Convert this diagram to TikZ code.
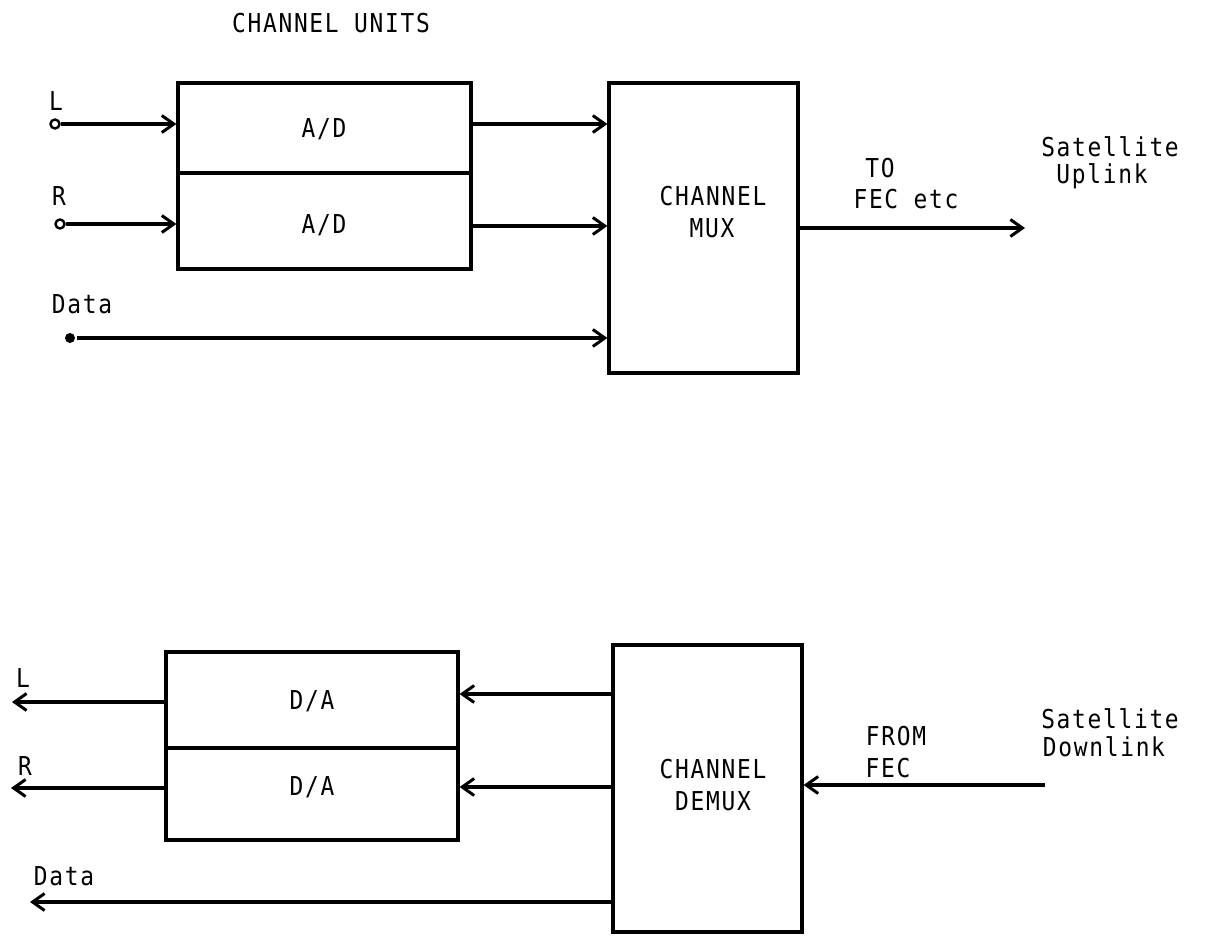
\documentclass[tikz,border=0pt]{standalone}
\usepackage{fontspec}
\setmainfont{DejaVu Sans Mono}[FakeStretch=0.88,LetterSpace=6.5]
\usetikzlibrary{arrows.meta}
\begin{document}
\begin{tikzpicture}[x=1pt,y=-1pt,
  line width=3.2pt,
  txt/.style={font=\fontsize{26}{30}\selectfont, inner sep=0pt, anchor=base},
  blk/.style={draw, rectangle, inner sep=0pt, line width=3.2pt},
  arr/.style={-{Straight Barb[length=12pt,width=17pt,line width=3pt]}},
  opendot/.style={circle, draw, fill=white, line width=2.4pt, minimum size=9pt, inner sep=0pt},
  fulldot/.style={circle, fill=black, minimum size=10pt, inner sep=0pt}]
\useasboundingbox (0,0) rectangle (1205,935);
% ---------- top (uplink) ----------
\node[txt] (title) at (331,32) {CHANNEL UNITS};
\node[blk, minimum width=293pt, minimum height=90pt] (AD1) at (324.5,128) {};
\node[blk, minimum width=293pt, minimum height=96pt] (AD2) at (324.5,221) {};
\node[txt] (AD1t) at (324,137) {A/D};
\node[txt] (AD2t) at (324,233) {A/D};
\node[blk, minimum width=189pt, minimum height=290pt] (MUX) at (703.5,228) {};
\node[txt] (MUXa) at (713,205) {CHANNEL};
\node[txt] (MUXb) at (712,237) {MUX};
\node[opendot] (Lin) at (55,124) {};
\node[opendot] (Rin) at (60,224) {};
\node[fulldot] (Din) at (70,338) {};
\node[txt] (Llab) at (56,110) {L};
\node[txt] (Rlab) at (59,205) {R};
\node[txt] (Dlab) at (82,313) {Data};
\draw[arr] (Lin) -- (Lin -| AD1.west);
\draw[arr] (Rin) -- (Rin -| AD2.west);
\draw[arr] (Din) -- (Din -| MUX.west);
\coordinate (o1) at (471,124);
\coordinate (o2) at (471,226);
\draw[arr] (o1) -- (o1 -| MUX.west);
\draw[arr] (o2) -- (o2 -| MUX.west);
\coordinate (up) at (1025,228);
\draw[arr] (MUX.east |- up) -- (up);
\node[txt] (to) at (880,177) {TO};
\node[txt] (fec) at (906,208) {FEC etc};
\node[txt] (sat1) at (1110,156) {Satellite};
\node[txt] (sat2) at (1102,183) {Uplink};
% ---------- bottom (downlink) ----------
\node[blk, minimum width=292pt, minimum height=96pt] (DA1) at (312,700) {};
\node[blk, minimum width=292pt, minimum height=92pt] (DA2) at (312,794) {};
\node[txt] (DA1t) at (312,709) {D/A};
\node[txt] (DA2t) at (312,795) {D/A};
\node[blk, minimum width=189pt, minimum height=287pt] (DEMUX) at (707.5,788.5) {};
\node[txt] (DMa) at (713,778) {CHANNEL};
\node[txt] (DMb) at (713,810) {DEMUX};
\coordinate (Lout) at (12,702);
\coordinate (Rout) at (11,788);
\coordinate (Dout) at (30,902);
\draw[arr] (Lout -| DA1.west) -- (Lout);
\draw[arr] (Rout -| DA2.west) -- (Rout);
\draw[arr] (Dout -| DEMUX.west) -- (Dout);
\coordinate (i1) at (613,694);
\coordinate (i2) at (613,787);
\draw[arr] (i1) -- (i1 -| DA1.east);
\draw[arr] (i2) -- (i2 -| DA2.east);
\coordinate (dn) at (1045,785);
\draw[arr] (dn) -- (dn -| DEMUX.east);
\node[txt] (Llab2) at (23,687) {L};
\node[txt] (Rlab2) at (25,775) {R};
\node[txt] (Dlab2) at (64,885) {Data};
\node[txt] (from) at (896,745) {FROM};
\node[txt] (fec2) at (888,777) {FEC};
\node[txt] (sat3) at (1110,728) {Satellite};
\node[txt] (sat4) at (1104,756) {Downlink};
\end{tikzpicture}
\end{document}
